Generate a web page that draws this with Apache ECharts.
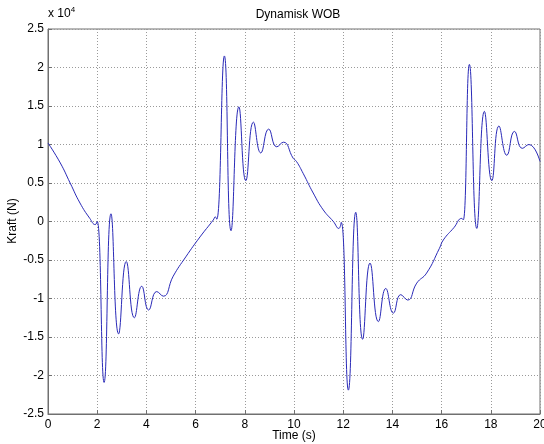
<!DOCTYPE html>
<html>
<head>
<meta charset="utf-8">
<script src="https://cdn.jsdelivr.net/npm/echarts@6/dist/echarts.min.js"></script>
<style>html,body{margin:0;padding:0;background:#fff}#c{width:544px;height:444px}</style>
</head>
<body>
<div id="c"></div>
<script>
var titleText = "Dynamisk WOB";
var xName = "Time (s)";
var yName = "Kraft (N)";
var xTicks = [0, 2, 4, 6, 8, 10, 12, 14, 16, 18, 20];
var yTicks = [-2.5, -2, -1.5, -1, -0.5, 0, 0.5, 1, 1.5, 2, 2.5];
var time = [0, 0.5, 0.9, 1.3, 1.7, 1.92, 2.0, 2.28, 2.56, 2.87, 3.18, 3.51, 3.81, 4.09, 4.42, 4.69, 5.09, 5.6, 6.18, 6.72, 6.8, 6.86, 7.17, 7.44, 7.76, 8.04, 8.35, 8.65, 8.97, 9.3, 9.57, 9.97, 10.1, 10.38, 10.78, 11.19, 11.6, 11.82, 11.92, 12.21, 12.51, 12.79, 13.09, 13.43, 13.73, 14.04, 14.34, 14.62, 14.99, 15.39, 15.91, 16.07, 16.5, 16.82, 16.88, 17.13, 17.43, 17.74, 18.04, 18.33, 18.65, 18.96, 19.28, 19.55, 20];
var force = [10200, 7600, 5000, 2400, 400, -400, 0, -20900, 1000, -14600, -5200, -12500, -8400, -11500, -9100, -9700, -7100, -4600, -2000, 200, 600, 300, 21500, -1200, 14900, 5300, 12900, 8900, 12000, 9700, 10300, 8200, 7800, 6200, 3700, 1500, 0, -900, -100, -21900, 1200, -15300, -5400, -13000, -8700, -11900, -9500, -10200, -8000, -6700, -3500, -2400, -800, 400, 200, 20400, -900, 14300, 5300, 12400, 8600, 11700, 9500, 10000, 7800];

var pts = time.map(function (t, i) { return [t, force[i]]; });
var chart = echarts.init(document.getElementById('c'), null, {renderer: 'canvas'});
var font = 'Liberation Sans, Arial, sans-serif';
chart.setOption({
  animation: false,
  backgroundColor: '#fff',
  title: {
    text: titleText, left: 293, top: 4, textAlign: 'center',
    textStyle: {fontFamily: font, fontSize: 12, fontWeight: 'normal', color: '#000'}
  },
  grid: {left: 48, right: 4, top: 29, bottom: 30, containLabel: false, outerBoundsMode: 'none',
    show: true, borderColor: '#707070', borderWidth: 1, backgroundColor: 'transparent'},
  xAxis: {
    type: 'value', min: xTicks[0], max: xTicks[xTicks.length - 1], interval: 2,
    axisLine: {onZero: false, lineStyle: {color: '#707070'}},
    axisTick: {inside: true, length: 4, lineStyle: {color: '#707070'}},
    axisLabel: {fontFamily: font, fontSize: 12, color: '#000', margin: 5, showMaxLabel: true},
    splitLine: {show: true, lineStyle: {type: [1, 2], color: '#9a9a9a', width: 1}}
  },
  yAxis: {
    type: 'value', min: yTicks[0] * 1e4, max: yTicks[yTicks.length - 1] * 1e4, interval: 5000,
    axisLine: {onZero: false, lineStyle: {color: '#707070'}},
    axisTick: {inside: true, length: 4, lineStyle: {color: '#707070'}},
    axisLabel: {fontFamily: font, fontSize: 12, color: '#000', margin: 4,
      formatter: function (v) { return String(Math.round(v / 1000) / 10); }},
    splitLine: {show: true, lineStyle: {type: [1, 2], color: '#9a9a9a', width: 1}}
  },
  graphic: [{
    type: 'text', left: 48, top: 6,
    style: {
      text: 'x 10{s|4}', fontFamily: font, fontSize: 12, fill: '#000',
      rich: {s: {fontSize: 8, verticalAlign: 'top', padding: [0, 0, 7, 0], fontFamily: font}}
    }
  }, {
    type: 'text', x: 294, y: 430,
    style: {text: xName, fontFamily: font, fontSize: 12, fill: '#000', align: 'center', verticalAlign: 'top'}
  }, {
    type: 'text', x: 13, y: 221, rotation: Math.PI / 2,
    style: {text: yName, fontFamily: font, fontSize: 12, fill: '#000', align: 'center', verticalAlign: 'middle'}
  }],
  series: [{
    type: 'line', data: pts, showSymbol: false, smooth: 0.5,
    lineStyle: {color: '#2a2ab8', width: 1},
    z: 5
  }]
});
</script>
</body>
</html>
